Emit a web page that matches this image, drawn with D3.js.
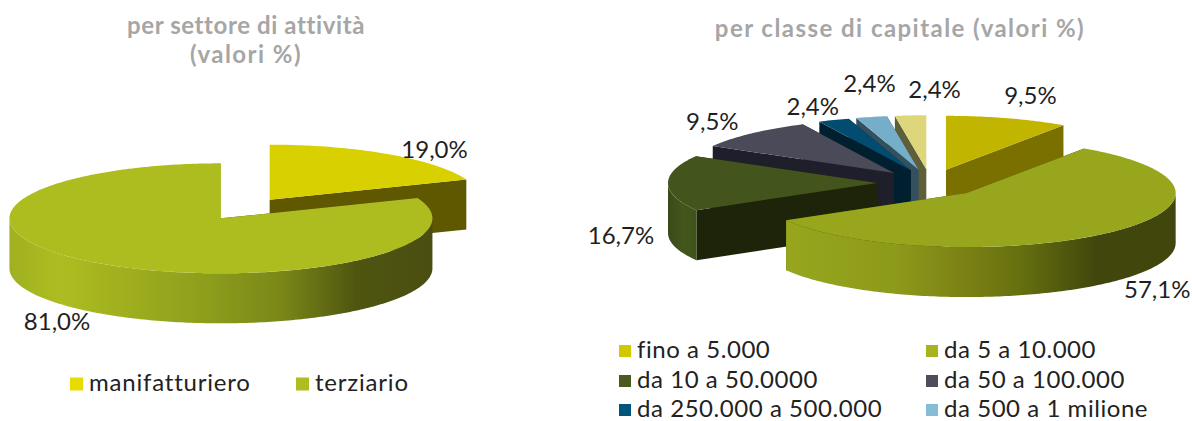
<!DOCTYPE html>
<html><head><meta charset="utf-8">
<script src="https://cdn.jsdelivr.net/npm/d3@7"></script>
<style>
html,body{margin:0;padding:0;background:#fff}
svg{display:block}
text{font-family:Lato,"Open Sans",sans-serif}
.title{font-weight:700;fill:#a6a6a6;font-size:24px;text-anchor:middle}
.lab{font-size:24px;fill:#1f1f1f;text-anchor:middle}
.leg{font-size:24px;fill:#222}
</style></head><body>
<svg id="c" width="1192" height="421"></svg>
<script>
// ---- data ----
const sectorCategories = ["manifatturiero","terziario"];
const sectorValues = [19.0,81.0];
const sectorTop  = ["#d8d000","#adbd20"];
const sectorCut  = ["#5f5800","#4a4e10"];

const capitalCategories = ["fino a 5.000","da 5 a 10.000","da 10 a 50.0000","da 50 a 100.000","da 250.000 a 500.000","da 500 a 1 milione","oltre 1 milione"];
const capitalValues = [9.5,57.1,16.7,9.5,2.4,2.4,2.4];
const capitalTop = ["#c2b500","#97a61d","#43551d","#4a4a58","#024d6f","#74aec8","#ddd67a"];
const capitalCut = ["#7a7000","#404609","#1e2409","#1e1f2b","#00202f","#34505f","#5e5e38"];
const capitalLegendColors = ["#d0c800","#a9b41d","#4a5a20","#4d4d5d","#00557d","#85bcd6"];
const sectorLegendColors = ["#e6dc00","#adbd20"];

// ---- layout ----
const svg = d3.select("#c"), defs = svg.append("defs");
const fmt = v => v.toFixed(1).replace(".",",")+"%";
const wallStops = {
  terz:[[0,"#a0b020"],[.12,"#adbd20"],[.45,"#8f9f1c"],[.64,"#7b8818"],[.82,"#4f5510"],[1,"#4a4e10"]],
  big:[[0,"#97a61d"],[.28,"#8d9a1a"],[.45,"#7c8215"],[.6,"#66700f"],[.8,"#40460c"],[1,"#40460c"]],
  third:[[0,"#3a4a18"],[.5,"#43561c"],[1,"#40531a"]]
};
function gradient(id,stops){
  const g=defs.append("linearGradient").attr("id",id).attr("x1",0).attr("x2",1).attr("y1",0).attr("y2",0);
  stops.forEach(s=>g.append("stop").attr("offset",s[0]).attr("stop-color",s[1]));
}
Object.entries(wallStops).forEach(([k,v])=>gradient(k,v));

function pie3d(cfg){
  const arcs = d3.pie().sort(null).startAngle(0).endAngle(2*Math.PI)(cfg.values);
  const line = d3.line();
  const rim=(c,a)=>[c[0]+cfg.rx*Math.sin(a), c[1]-cfg.ry*Math.cos(a)];
  const centre=d=>{const m=(d.startAngle+d.endAngle)/2;
    return [cfg.cx+cfg.explode*cfg.rx*Math.sin(m), cfg.cy-cfg.explode*cfg.ry*Math.cos(m)];};
  const sample=(a,b)=>{const n=Math.max(2,Math.ceil((b-a)*60));return d3.range(n+1).map(i=>a+(b-a)*i/n);};
  const down=p=>[p[0],p[1]+cfg.depth];
  cfg.order.forEach(i=>{
    const d=arcs[i], c=centre(d), g=svg.append("g");
    [d.startAngle,d.endAngle].forEach(a=>{
      const r=rim(c,a);
      g.append("path").attr("d",line([c,r,down(r),down(c)])+"Z").attr("fill",cfg.cut[i]);
    });
    const a0=Math.max(d.startAngle,Math.PI/2), a1=Math.min(d.endAngle,1.5*Math.PI);
    if(a1>a0){
      const upper=sample(a0,a1).map(a=>rim(c,a));
      g.append("path").attr("d",line(upper.concat(upper.map(down).reverse()))+"Z")
       .attr("fill",`url(#${cfg.wall[i]})`);
    }
    g.append("path").attr("d",line([c].concat(sample(d.startAngle,d.endAngle).map(a=>rim(c,a))))+"Z")
     .attr("fill",cfg.top[i]);
  });
  arcs.forEach((d,i)=>{
    const p=rim(centre(d),(d.startAngle+d.endAngle)/2);
    svg.append("text").attr("class","lab").attr("x",p[0]+cfg.nudge[i][0]).attr("y",p[1]+cfg.nudge[i][1]).text(fmt(cfg.values[i]));
  });
}

pie3d({values:sectorValues,top:sectorTop,cut:sectorCut,wall:{1:"terz"},order:[0,1],
  cx:245.3,cy:209,rx:211.5,ry:55,depth:50,explode:.205,
  nudge:[[46,4],[-45,66]]});
pie3d({values:capitalValues,top:capitalTop,cut:capitalCut,wall:{1:"big",2:"third"},order:[6,5,4,3,2,0,1],
  cx:930.3,cy:183,rx:209,ry:54,depth:50,explode:.255,
  nudge:[[23,-14],[48,65],[-47,61],[-39,-3],[-21,-5],[-2,-25],[24,-17]]});

[["per settore di attività",246,34,.6],["(valori %)",246,63,1.45],["per classe di capitale (valori %)",900,37,1.45]]
 .forEach(t=>svg.append("text").attr("class","title").attr("x",t[1]).attr("y",t[2]).style("letter-spacing",t[3]+"px").text(t[0]));

function legend(names,colors,xs,ys,cols,sq,textGap,spacing){
  names.forEach((n,i)=>{
    const x=xs[i%cols], y=ys[Math.floor(i/cols)];
    svg.append("rect").attr("x",x).attr("y",y-sq/2).attr("width",sq).attr("height",sq).attr("fill",colors[i]);
    svg.append("text").attr("class","leg").attr("x",x+textGap).attr("y",y+7).style("letter-spacing",spacing+"px").text(n);
  });
}
legend(sectorCategories,sectorLegendColors,[70,296],[384],2,13,19,.8);
legend(capitalCategories.slice(0,6),capitalLegendColors,[619,926],[351,381,410],2,12,18,.55);
</script></body></html>
